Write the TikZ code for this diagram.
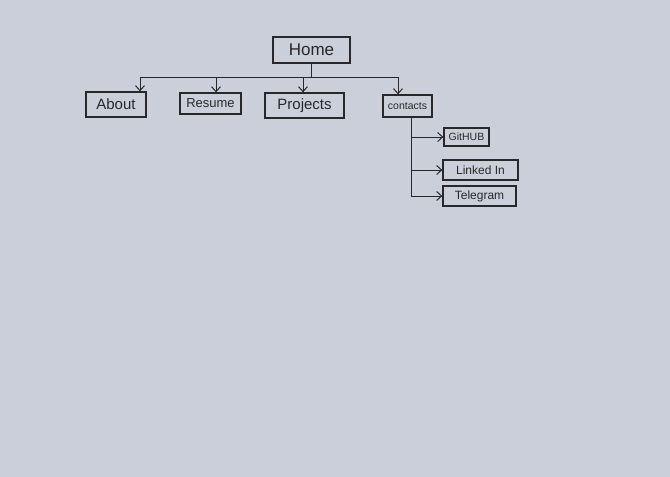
\documentclass[tikz,border=0pt]{standalone}
\usepackage{fontspec}
\setmainfont{Liberation Sans}
\usetikzlibrary{arrows.meta}
\definecolor{paper}{RGB}{202,207,217}
\definecolor{ink}{RGB}{40,40,44}
\begin{document}
\begin{tikzpicture}[x=1pt,y=-1pt,
  page/.style={draw=ink,line width=1.3pt,inner sep=0pt,text=ink,font=\fontsize{13}{15}\selectfont},
  link/.style={draw=ink,line width=1pt},
  tip/.style={link,-{Straight Barb[length=5pt,width=9pt]}}]
  \fill[paper] (0,0) rectangle (670,477);
  \useasboundingbox (0,0) rectangle (670,477);

  % top level
  \node[page,minimum width=77pt,minimum height=26pt,font=\fontsize{17}{19}\selectfont] (home) at (311.5,50) {Home};

  % sections
  \node[page,minimum width=60pt,minimum height=25pt,font=\fontsize{15}{17}\selectfont] (about) at (116,104.5) {About};
  \node[page,minimum width=61pt,minimum height=21pt] (resume) at (210.5,103.5) {Resume};
  \node[page,minimum width=79pt,minimum height=25pt,font=\fontsize{15}{17}\selectfont] (projects) at (304.5,105.5) {Projects};
  \node[page,minimum width=49pt,minimum height=22pt,font=\fontsize{10.5}{12}\selectfont] (contacts) at (407.5,106) {contacts};

  % contact links
  \node[page,minimum width=45pt,minimum height=18pt,font=\fontsize{10.5}{12}\selectfont] (github) at (466.5,137) {GitHUB};
  \node[page,minimum width=75pt,minimum height=20pt,font=\fontsize{12}{14}\selectfont] (linkedin) at (480.5,170) {Linked In};
  \node[page,minimum width=73pt,minimum height=20pt,font=\fontsize{12}{14}\selectfont] (telegram) at (479.5,196) {Telegram};

  % bus from Home to the sections
  \coordinate (busL) at (140,77);
  \coordinate (busR) at (398,77);
  \draw[link] (home.south) -- (home.south |- busL);
  \draw[link] (busL) -- (busR);
  \draw[tip] (busL) -- (busL |- about.north);
  \draw[tip] (216,77) -- (216,0 |- resume.north);
  \draw[tip] (303,77) -- (303,0 |- projects.north);
  \draw[tip] (busR) -- (busR |- contacts.north);

  % stem from contacts to its links
  \path (contacts.south) ++(3.5,0) coordinate (ct);
  \draw[tip] (ct) |- (telegram.west);
  \draw[tip] (ct |- github.west) -- (github.west);
  \draw[tip] (ct |- linkedin.west) -- (linkedin.west);
\end{tikzpicture}
\end{document}
